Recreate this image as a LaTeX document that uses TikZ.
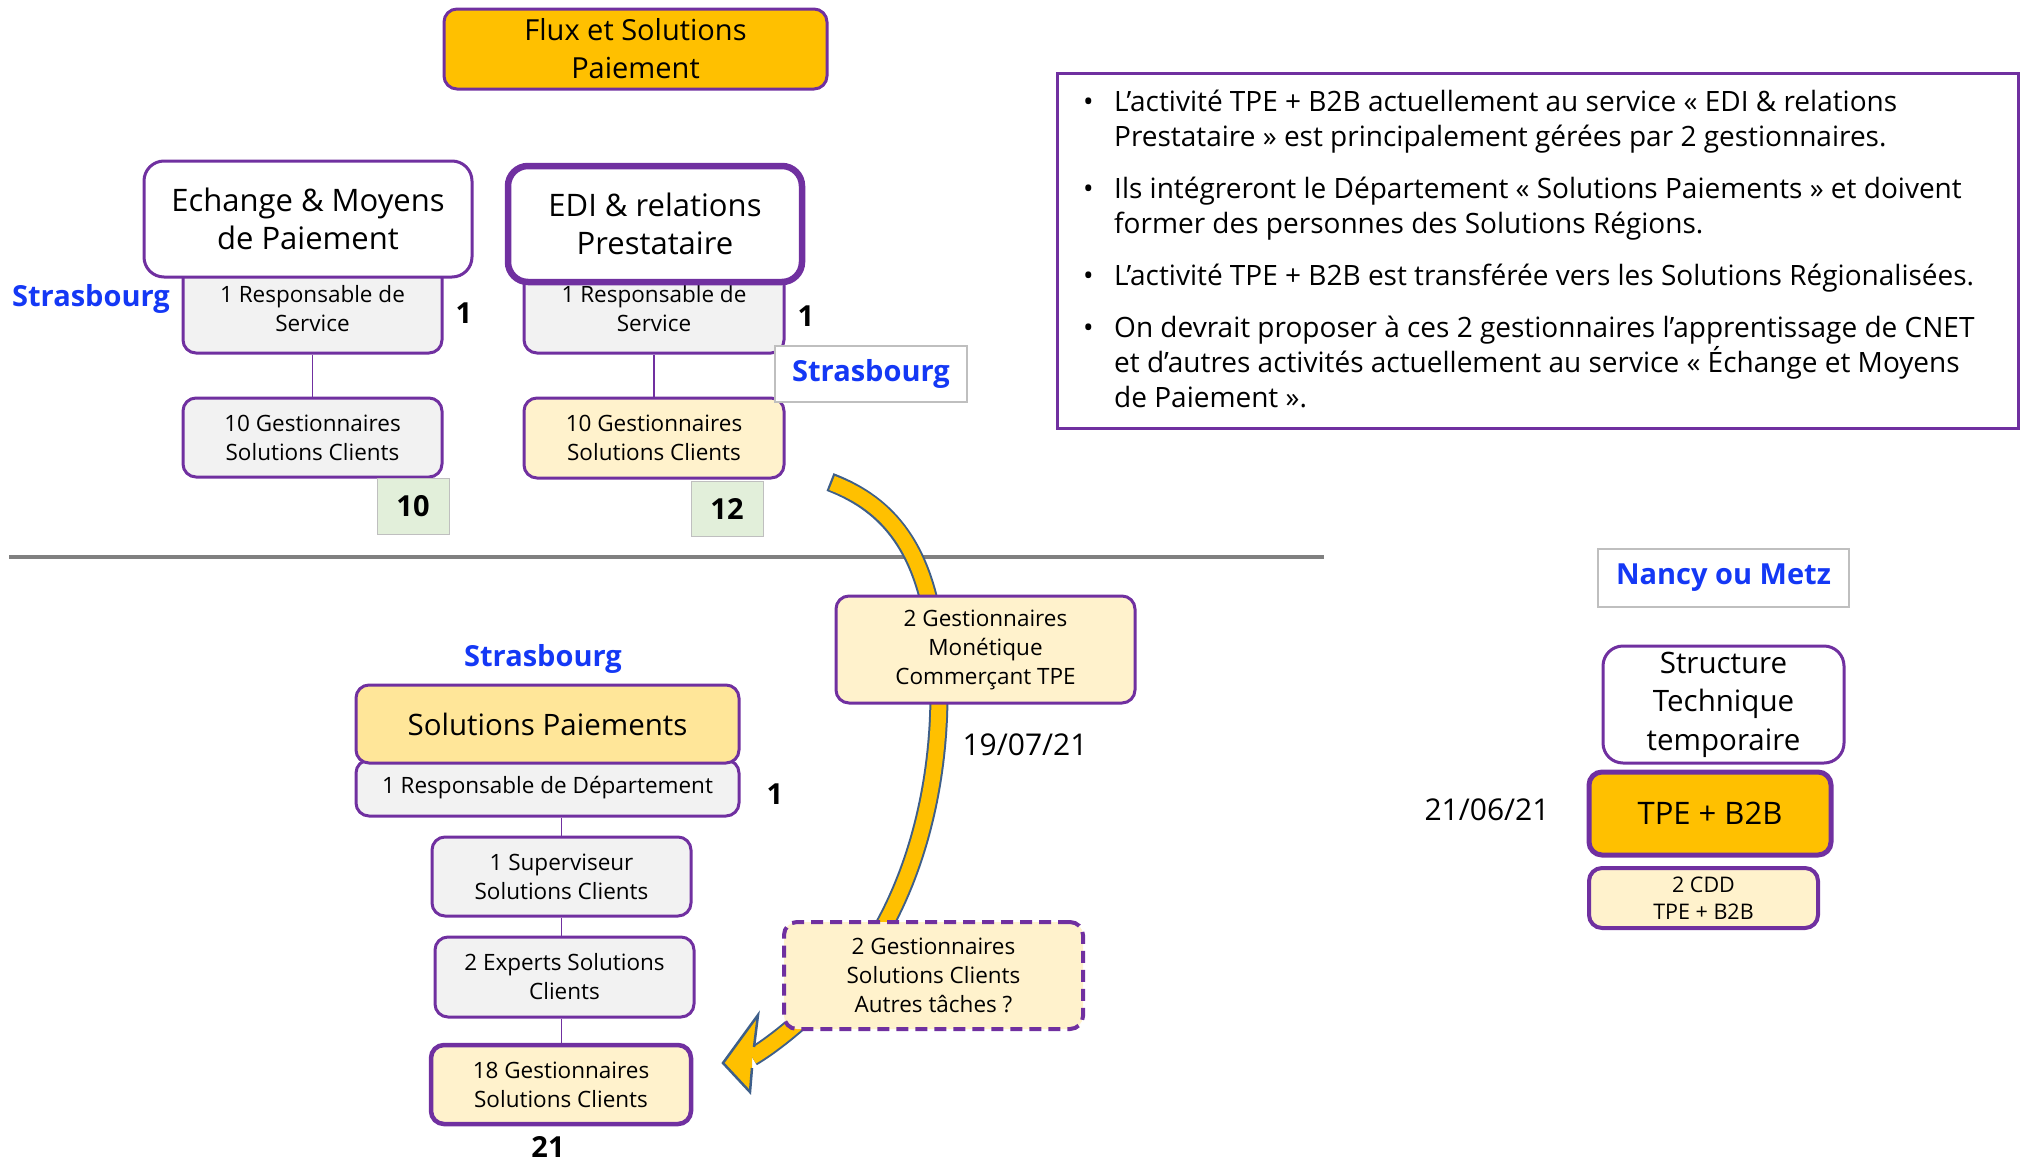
\documentclass[tikz,border=0pt]{standalone}
\usepackage{fontspec}
\setmainfont{Open Sans}
\usepackage{tikz}
\usetikzlibrary{positioning}

\definecolor{violet1}{HTML}{7030A0}
\definecolor{orange1}{HTML}{FFC000}
\definecolor{jaune1}{HTML}{FFF2CC}
\definecolor{jaune2}{HTML}{FFE699}
\definecolor{gris1}{HTML}{F2F2F2}
\definecolor{gris2}{HTML}{BFBFBF}
\definecolor{vert1}{HTML}{E2EFDA}
\definecolor{bleu1}{HTML}{1438F5}
\definecolor{fleche1}{HTML}{3E5F8A}

\newcommand{\txtS}{\fontsize{22.5}{29}\selectfont}
\newcommand{\txtM}{\fontsize{29}{38}\selectfont}
\newcommand{\txtL}{\fontsize{31}{38.5}\selectfont}
\newcommand{\txtN}{\fontsize{28}{35}\selectfont}

\tikzset{
	boite/.style={draw=violet1, line width=3pt, rounded corners=13pt, align=center, inner sep=0pt, font=\txtS},
	grisbox/.style={boite, fill=gris1},
	jaunebox/.style={boite, fill=jaune1},
	titrebox/.style={boite, fill=white, rounded corners=20pt, font=\txtL},
	chiffre/.style={draw=gris2, line width=1pt, fill=vert1, font=\txtM\bfseries, inner sep=0pt},
	nombre/.style={font=\txtM\bfseries, inner sep=0pt},
	ville/.style={text=bleu1, font=\txtM\bfseries, inner sep=0pt},
	lien/.style={draw=violet1, line width=1.5pt},
}

\begin{document}
\begin{tikzpicture}[x=1pt,y=-1pt]
	\useasboundingbox (0,0) rectangle (2022,1165);
	
	\draw[gray, line width=4pt] (9,557) coordinate (sepA) -- (1324,557) coordinate (sepB);
	
	% fleche
	\coordinate (fdeb) at (830,482);
	\coordinate (fmil) at (936,640);
	\coordinate (fbas) at (886,922);
	\coordinate (ffin) at (752,1057);
	\draw[fleche1, line width=19pt] (fdeb) .. controls (890,505) and (925,550) .. (fmil) .. controls (945,720) and (935,830) .. (fbas) .. controls (861,969) and (790,1035) .. (ffin);
	\draw[orange1, line width=15pt] (832,483) .. controls (890,505) and (925,550) .. (fmil) .. controls (945,720) and (935,830) .. (fbas) .. controls (861,969) and (790,1035) .. (ffin);
	\fill[orange1] (754,1047) -- (758,1015) -- (723,1063) -- (750,1092) -- (752,1068) -- (ffin) -- cycle;
	\draw[fleche1, line width=2.5pt, line join=miter] (754,1047) -- (758,1015) -- (723,1063) -- (750,1092) -- (752,1068);
	
	% Echange & Moyens
	\node[grisbox, minimum width=259pt, minimum height=88pt] (resp1) at (312.5,309) {1 Responsable de\\Service};
	\node[grisbox, minimum width=259pt, minimum height=79pt] (gest1) at (312.5,437.5) {10 Gestionnaires\\Solutions Clients};
	\draw[lien] (resp1.south) -- (gest1.north);
	\node[titrebox, minimum width=328pt, minimum height=116pt] (echange) at (308,219) {Echange \& Moyens\\de Paiement};
	\node[chiffre, minimum width=72pt, minimum height=56pt] (n10) at (413,506) {10};
	\node[ville] (strasA) at (91,299) {Strasbourg};
	\node[nombre] (un1) at (464,313) {1};
	
	% EDI
	\node[grisbox, minimum width=260pt, minimum height=88pt] (resp2) at (654,309) {1 Responsable de\\Service};
	\node[jaunebox, minimum width=260pt, minimum height=80pt] (gest2) at (654,438) {10 Gestionnaires\\Solutions Clients};
	\draw[lien] (resp2.south) -- (gest2.north);
	\node[titrebox, line width=6.5pt, minimum width=294pt, minimum height=116pt] (edi) at (655,224) {EDI \& relations\\Prestataire};
	\node[chiffre, minimum width=72pt, minimum height=55pt] (n12) at (727,508.5) {12};
	\node[ville, draw=gris2, line width=1.5pt, fill=white, minimum width=192pt, minimum height=56pt] (strasB) at (871,374) {Strasbourg};
	\node[nombre] (un2) at (806,316) {1};
	
	\node[boite, fill=orange1, font=\txtM, minimum width=383pt, minimum height=80pt] (flux) at (635.5,49) {Flux et Solutions\\Paiement};
	
	% texte
	\draw[violet1, line width=3pt] (1057,73) rectangle (2018,428);
	\node[anchor=north west, inner sep=0pt, align=left, font=\txtN] (notes) at (1083,90) {%
		\makebox[31pt][l]{\textbullet}L’activité TPE + B2B actuellement au service « EDI \& relations\\
		\hspace*{31pt}Prestataire » est principalement gérées par 2 gestionnaires.\\[17pt]
		\makebox[31pt][l]{\textbullet}Ils intégreront le Département « Solutions Paiements » et doivent\\
		\hspace*{31pt}former des personnes des Solutions Régions.\\[17pt]
		\makebox[31pt][l]{\textbullet}L’activité TPE + B2B est transférée vers les Solutions Régionalisées.\\[17pt]
		\makebox[31pt][l]{\textbullet}On devrait proposer à ces 2 gestionnaires l’apprentissage de CNET\\
		\hspace*{31pt}et d’autres activités actuellement au service « Échange et Moyens\\
		\hspace*{31pt}de Paiement ».};
	
	% Solutions Paiements
	\node[grisbox, minimum width=383pt, minimum height=56pt] (respdep) at (547.5,788) {1 Responsable de Département};
	\node[boite, fill=jaune2, font=\fontsize{29.5}{38}\selectfont, minimum width=383pt, minimum height=78pt] (solpay) at (547.5,724) {Solutions Paiements};
	\node[grisbox, minimum width=259pt, minimum height=79pt] (superv) at (561.5,876.5) {1 Superviseur\\Solutions Clients};
	\node[grisbox, minimum width=259pt, minimum height=80pt] (experts) at (564.5,977) {2 Experts Solutions\\Clients};
	\node[jaunebox, line width=4.5pt, minimum width=260pt, minimum height=79pt] (gest18) at (561,1084.5) {18 Gestionnaires\\Solutions Clients};
	\draw[lien] (superv.north |- respdep.south) -- (superv.north);
	\draw[lien] (superv.south) -- (superv.south |- experts.north);
	\draw[lien] (superv.south |- experts.south) -- (superv.south |- gest18.north);
	\node[ville] (strasC) at (543,659) {Strasbourg};
	\node[nombre] (un3) at (775,794) {1};
	\node[nombre] (n21) at (548,1147) {21};
	
	% transfert
	\node[jaunebox, minimum width=299pt, minimum height=107pt] (monet) at (985.5,649.5) {2 Gestionnaires\\Monétique\\Commerçant TPE};
	\node[font=\fontsize{30}{36}\selectfont] (date2) at (1025,745) {19/07/21};
	\node[jaunebox, line width=4pt, dash pattern=on 12pt off 7pt, minimum width=299pt, minimum height=107pt] (autres) at (933.5,975.5) {2 Gestionnaires\\Solutions Clients\\Autres tâches ?};
	
	% Nancy ou Metz
	\node[ville, draw=gris2, line width=1.5pt, fill=white, minimum width=251pt, minimum height=58pt] (nancy) at (1723.5,578) {Nancy ou Metz};
	\node[titrebox, font=\fontsize{29.5}{38.5}\selectfont, minimum width=241pt, minimum height=117pt] (structure) at (1723.5,704.5) {Structure\\Technique\\temporaire};
	\node[boite, fill=orange1, font=\txtL, line width=5pt, minimum width=242pt, minimum height=83pt] (tpe) at (1710,813.5) {TPE + B2B};
	\node[jaunebox, line width=4pt, font=\fontsize{21.5}{27}\selectfont, minimum width=229pt, minimum height=60pt] (cdd) at (1703.5,898) {2 CDD\\TPE + B2B};
	\node[font=\fontsize{30}{36}\selectfont] (date1) at (1487,810) {21/06/21};
	
\end{tikzpicture}
\end{document}
